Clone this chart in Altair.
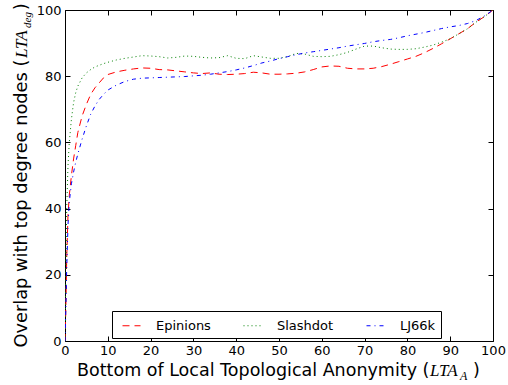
import altair as alt
import pandas as pd

series_names = ["Epinions", "Slashdot", "LJ66k"]
series_colors = ["#ff0000", "#008000", "#0000ff"]
series_dashes = [[7, 5], [1, 3], [4, 4, 1, 4]]

x_vals = [0, 0.2, 0.4, 0.7, 1, 1.5, 2, 2.5, 3, 4, 5, 6, 7, 8, 9, 10,
          12, 14, 16, 18, 20, 22, 24, 26, 28, 30, 32, 34, 36, 38, 40, 42, 44, 46, 48, 50,
          52, 54, 56, 58, 60, 62, 64, 66, 68, 70, 72, 74, 76, 78, 80, 82, 84, 86, 88, 90,
          92, 94, 96, 98, 100]

epinions = [0, 10, 25, 38, 44, 50, 55, 59, 63, 68, 71.5, 74.5, 76.5, 78, 79.5, 80.5,
            81.3, 81.8, 82.2, 82.5, 82.4, 82.0, 81.9, 81.6, 81.3, 81.0, 80.8, 81.0, 80.6, 80.5, 80.6, 80.8, 81.2, 81.0, 80.6, 80.6,
            80.7, 80.9, 81.3, 82.0, 82.8, 83.1, 83.0, 82.4, 82.2, 82.2, 82.4, 82.9, 83.6, 84.4, 85.2, 86.0, 87.1, 88.4, 89.8, 91.3,
            92.8, 94.3, 96.3, 98.0, 100]

slashdot = [0, 20, 40, 53, 60, 67, 72, 75, 77, 79.5, 81, 82, 82.8, 83.3, 83.8, 84.2,
            84.9, 85.4, 85.8, 86.2, 86.1, 85.9, 85.5, 85.7, 86.1, 86.0, 85.7, 85.5, 85.6, 86.2, 85.4, 85.3, 86.2, 85.8, 85.4, 85.4,
            85.9, 86.9, 86.7, 86.0, 85.9, 86.0, 86.5, 87.2, 88.2, 89.1, 89.1, 88.6, 88.2, 88.1, 88.1, 88.3, 88.8, 89.4, 90.3, 91.3,
            92.8, 94.3, 96.3, 98.0, 100]

lj66k = [0, 10, 22, 35, 42, 47.5, 51, 54, 56.5, 61, 65, 68.5, 71, 73, 74.5, 75.8,
         77.3, 78.4, 79.1, 79.4, 79.5, 79.6, 79.7, 79.8, 79.9, 80.1, 80.3, 80.6, 81.0, 81.4, 81.9, 82.5, 83.2, 84.0, 84.6, 85.3,
         85.9, 86.5, 87.0, 87.4, 87.8, 88.2, 88.6, 89.1, 89.5, 89.9, 90.4, 90.8, 91.1, 91.6, 92.2, 92.7, 93.2, 93.8, 94.4, 94.9,
         95.3, 95.9, 96.8, 98.2, 100]

x_ticks = list(range(0, 101, 10))
y_ticks = list(range(0, 101, 20))

rows = []
for name, vals in zip(series_names, [epinions, slashdot, lj66k]):
    for xv, yv in zip(x_vals, vals):
        rows.append({"x": xv, "y": yv, "series": name})
df = pd.DataFrame(rows)

FONT = "DejaVu Sans"
common_axis = dict(domain=False, grid=False, tickSize=5, tickColor="black", tickWidth=1,
                   labelColor="black", labelFont=FONT, labelFontSize=13, title=None,
                   labelFlush=False, labelOverlap=False, offset=-5)

xscale = alt.Scale(domain=[0, 100], nice=False, zero=False)
yscale = alt.Scale(domain=[0, 100], nice=False, zero=False)

legend = alt.Legend(title=None, orient="none", legendX=47, legendY=301, direction="horizontal",
                    columns=3, symbolType="stroke", symbolSize=324, symbolStrokeWidth=1,
                    labelOffset=15, columnPadding=27, padding=5, strokeColor="black",
                    fillColor="white", labelFont=FONT, labelFontSize=13, labelColor="black",
                    symbolOffset=5, cornerRadius=0, labelLimit=200)

lines = alt.Chart(df).mark_line(strokeWidth=1, clip=True).encode(
    x=alt.X("x:Q", scale=xscale, axis=alt.Axis(orient="bottom", values=x_ticks, labelPadding=3, **common_axis)),
    y=alt.Y("y:Q", scale=yscale, axis=alt.Axis(orient="left", values=y_ticks, labelPadding=4, **common_axis)),
    color=alt.Color("series:N", scale=alt.Scale(domain=series_names, range=series_colors), legend=legend),
    strokeDash=alt.StrokeDash("series:N", scale=alt.Scale(domain=series_names, range=series_dashes), legend=legend),
    detail="series:N",
)

ghost = alt.Chart(df).mark_line(opacity=0).encode(
    x=alt.X("x:Q", scale=xscale, axis=alt.Axis(orient="top", values=x_ticks, labels=False, **common_axis)),
    y=alt.Y("y:Q", scale=yscale, axis=alt.Axis(orient="right", values=y_ticks, labels=False, **common_axis)),
    detail="series:N",
)

anchor = pd.DataFrame({"k": [0]})


def txt(s, x, y, size=17, font=FONT, style="normal", angle=0):
    return alt.Chart(anchor).mark_text(align="left", baseline="alphabetic", font=font, fontSize=size,
                                       fontStyle=style, angle=angle, color="black").encode(
        x=alt.value(x), y=alt.value(y), text=alt.value(s))


SERIF = "Liberation Serif"
texts = [
    txt("Bottom of Local Topological Anonymity (", 12, 366, size=17.5),
    txt("LTA", 365, 366, font=SERIF, style="italic"),
    txt("A", 395, 370, size=12, font=SERIF, style="italic"),
    txt(")", 408, 366, size=17.5),
    txt("Overlap with top degree nodes (", -38.5, 337.5, size=17.8, angle=270),
    txt("LTA", -38.5, 48, font=SERIF, style="italic", angle=270),
    txt("deg", -34.5, 18, size=11, font=SERIF, style="italic", angle=270),
    txt(")", -38.5, 0, angle=270),
]

chart = alt.layer(lines, ghost, *texts).resolve_axis(x="independent", y="independent").properties(
    width=428, height=331,
    autosize=alt.AutoSizeParams(type="none"),
    padding={"left": 65, "top": 10, "right": 15, "bottom": 44},
    background="white",
).configure_view(stroke="black", strokeWidth=1)

chart.save("out.html", embed_options={"renderer": "svg", "actions": False})
